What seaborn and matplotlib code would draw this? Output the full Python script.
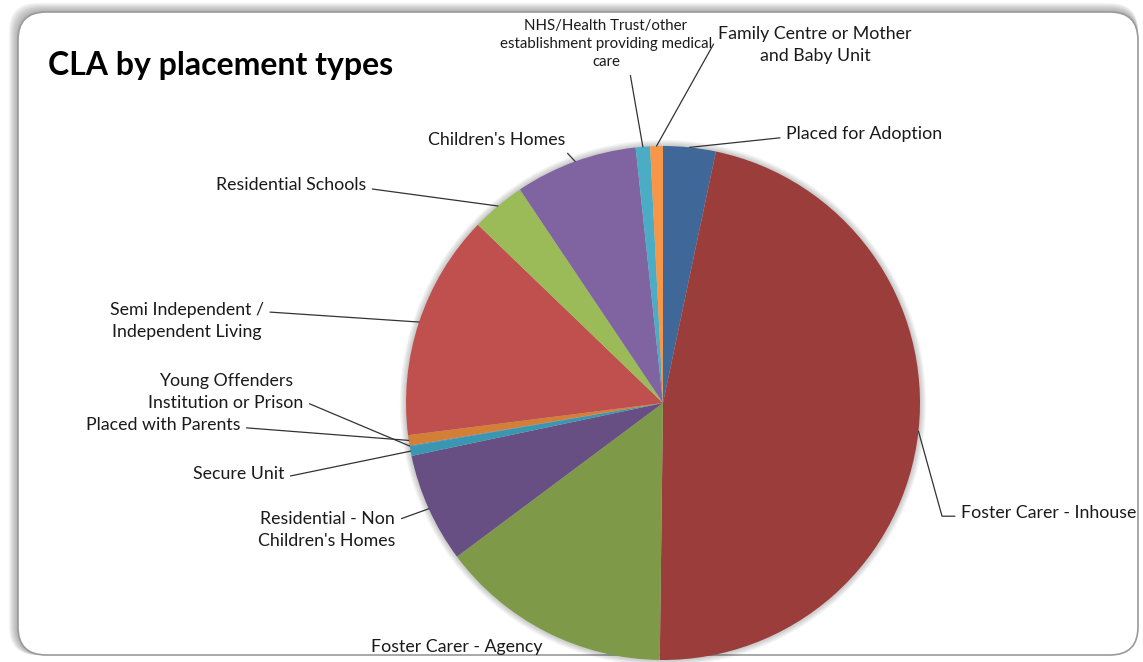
import matplotlib
matplotlib.use("Agg")
import matplotlib.pyplot as plt
import matplotlib.transforms as mtransforms
from matplotlib.patches import FancyBboxPatch, Circle
import numpy as np
import seaborn as sns

# data (share of children looked after, %), clockwise from 12 o'clock
placements = [
    "Placed for Adoption",
    "Foster Carer - Inhouse",
    "Foster Carer - Agency",
    "Residential - Non\nChildren's Homes",
    "Secure Unit",
    "Young Offenders\nInstitution or Prison",
    "Placed with Parents",
    "Semi Independent /\nIndependent Living",
    "Residential Schools",
    "Children's Homes",
    "NHS/Health Trust/other\nestablishment providing medical\ncare",
    "Family Centre or Mother\nand Baby Unit",
]
shares = [3.3, 46.9, 14.6, 6.9, 0.6, 0.05, 0.65, 14.2, 3.4, 7.7, 0.9, 0.8]
slice_colours = ["#3F6797", "#9B3D3B", "#7E9A48", "#674F84", "#3A97B1", "#4F81BD",
                 "#D47F36", "#C0504D", "#9BBB59", "#8064A2", "#4BACC6", "#F79646"]

# label layout: (x px, y px from top, ha, relpos of leader line, font size)
label_layout = [
    (786, 134, "left", (0, 0.3), 12.8),
    (961, 513, "left", (0, 0.3), 12.8),
    (457, 647, "center", None, 12.8),
    (327, 530, "center", (1, 0.75), 12.8),
    (193, 474, "left", (1, 0.3), 12.8),
    (226, 392, "center", (1, 0.25), 12.8),
    (86, 425, "left", (1, 0.35), 12.8),
    (187, 321, "center", (1, 0.75), 12.8),
    (216, 185, "left", (1, 0.3), 12.8),
    (428, 140, "left", (0.98, 0.0), 12.8),
    (606, 44, "center", (0.61, 0.0), 10.8),
    (815, 45, "center", (0, 0.75), 12.8),
]

sns.set_theme(style="white")
plt.rcParams["font.family"] = ["Lato", "DejaVu Sans"]

W, H = 1143, 662
fig = plt.figure(figsize=(W / 100, H / 100), dpi=100)
fig.patch.set_facecolor("white")

# rounded chart frame with soft shadow (behind the pie axes)
ident = mtransforms.IdentityTransform()
for k in range(9, 0, -1):
    fig.patches.append(FancyBboxPatch((18 - k, 7), 1120 + k, 643 + k,
                                      boxstyle="round,pad=0,rounding_size=28",
                                      transform=ident, facecolor="#505050",
                                      edgecolor="none", alpha=0.06, zorder=-10))
fig.patches.append(FancyBboxPatch((18, 7), 1120, 643,
                                  boxstyle="round,pad=0,rounding_size=28",
                                  transform=ident, facecolor="white",
                                  edgecolor="#9a9a9a", linewidth=1.2, zorder=-9))

# pie centre at (663, 403) px from top, radius 257 px
cx, cy, r = 663, H - 403, 257
ax = fig.add_axes([0, 0, 1, 1], zorder=1)
ax.patch.set_alpha(0)
for k in range(6, 0, -1):
    ax.add_patch(Circle((0, 0), 1 + k * 0.004, color="#000000", alpha=0.035, lw=0))
wedges, _ = ax.pie(shares, colors=slice_colours, startangle=90, counterclock=False,
                   radius=1, wedgeprops=dict(linewidth=0))
ax.set_xlim(-cx / r, (W - cx) / r)
ax.set_ylim(-cy / r, (H - cy) / r)
ax.set_aspect("equal")
ax.axis("off")

for w, name, (tx, ty, ha, rel, fs) in zip(wedges, placements, label_layout):
    mid = np.deg2rad((w.theta1 + w.theta2) / 2)
    rim = (np.cos(mid), np.sin(mid))
    if rel is None:
        ax.text(tx / W, 1 - ty / H, name, transform=fig.transFigure, ha=ha,
                va="center", fontsize=fs, color="#1a1a1a", linespacing=1.4)
        continue
    conn = "arc3"
    if name == "Foster Carer - Inhouse":
        conn = "angle,angleA=0,angleB=-74.5,rad=0"
    ax.annotate(name, xy=rim, xytext=(tx, H - ty), textcoords="figure pixels",
                ha=ha, va="center", fontsize=fs, color="#1a1a1a", linespacing=1.4,
                annotation_clip=False,
                arrowprops=dict(arrowstyle="-", color="#333333", lw=0.9,
                                shrinkA=2, shrinkB=0, relpos=rel,
                                connectionstyle=conn))

ax.text(48 / W, 1 - 66 / H, "CLA by placement types", transform=fig.transFigure,
        fontsize=23, fontweight="bold", color="black", ha="left", va="center")

fig.savefig("out.png", dpi=100, facecolor="white")
